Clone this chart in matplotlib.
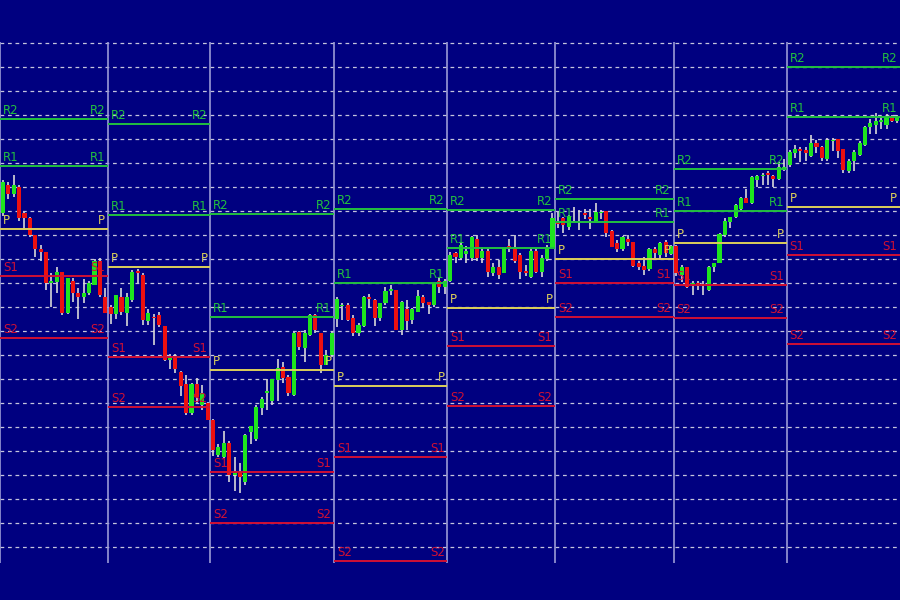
import numpy as np
import matplotlib
matplotlib.use('Agg')
import matplotlib.pyplot as plt

# colours
BG = '#000080'
GRID = '#c4c4dc'
SEP = '#9a9ad6'
UP = '#1ee41e'
DOWN = '#ec1010'
WICK = '#d8d8d8'
R_COL = '#22c040'
P_COL = '#dccf5a'
S_COL = '#d01034'

# one day = one session, bars counted per session
bars_per_day = [20, 19, 23, 21, 20, 22, 21, 21]

# daily pivot levels (price units, grid every 10)
pivot_r2 = [198.3, 196.3, 158.8, 160.8, 160.4, 165.0, 177.5, 220.0]
pivot_r1 = [178.8, 158.3, 115.8, 130.0, 144.6, 155.4, 160.0, 199.2]
pivot_p = [152.5, 136.7, 93.8, 87.1, 119.6, 140.0, 146.7, 161.7]
pivot_s1 = [132.9, 99.2, 51.3, 57.5, 103.8, 130.0, 129.2, 141.7]
pivot_s2 = [107.1, 78.3, 30.0, 14.2, 78.8, 115.8, 115.4, 104.6]

grid_levels = list(range(20, 231, 10))

# candles: (open, high, low, close)
day1 = [(159, 173, 158, 172), (171, 172, 165, 167), (167, 175, 166, 171),
        (170, 171, 156, 157), (159, 159.5, 152, 157), (157, 157.5, 149, 150),
        (150, 150, 141, 144), (144, 146, 139, 143), (143, 143, 127, 130),
        (130, 134, 120, 131), (130.5, 136.5, 126, 134.5),
        (134.5, 134.5, 116.5, 117.5), (117.5, 132, 117, 132),
        (131, 132, 122, 126), (126, 128, 115, 124), (124, 131.5, 121.5, 126),
        (126, 131, 125, 130), (129, 140, 129, 139), (139, 140.5, 124, 125),
        (124, 128, 117.5, 117.5)]
day2 = [(120, 121, 113, 117), (117, 125, 115, 125), (124, 128, 116.5, 118),
        (117.5, 126, 112, 124), (123, 135.5, 122, 134.5), (135, 136, 130, 134),
        (133.5, 134, 112.5, 114.5), (114, 119, 112.5, 117.5),
        (116, 117, 104, 115.5), (116.5, 118, 111.5, 112.5),
        (112, 112, 97.5, 98), (98, 100.5, 94, 99), (99, 100.5, 92.5, 94),
        (93, 93.5, 83, 87), (88, 91.5, 75, 76), (76, 88.5, 75, 88),
        (88, 90.5, 80, 82.5), (79, 87.5, 77, 84), (80, 80.5, 73, 73)]
day3 = [(73, 73.5, 58, 60.5), (58.5, 63, 57.5, 61.5), (57.5, 68.5, 57, 63.5),
        (63.5, 64, 47, 50), (50, 57.5, 43.5, 51.5), (51, 55, 42.5, 49),
        (47, 67, 46, 66.5), (68, 70.5, 63, 70.5), (65, 79, 64, 78.5),
        (78, 82.5, 75, 81.5), (84, 90, 77, 85), (81, 90, 79, 90),
        (89.5, 98.5, 81, 94.5), (95, 97, 88.5, 90.5), (91, 91.5, 83, 84),
        (83.5, 109.5, 83, 109), (109.5, 110, 102, 103.5),
        (103, 110.5, 97, 109), (108.5, 117, 108, 116.5),
        (116.5, 117, 109, 110.5), (109, 109, 92.5, 96), (96, 102, 96, 100),
        (100, 110, 99, 109)]
day4 = [(115, 124, 111.5, 123.5), (120.5, 121.5, 114.5, 121),
        (121, 121.5, 114, 114.5), (115.5, 116.5, 108, 109),
        (109, 113.5, 108, 112.5), (112, 124.5, 111.5, 124),
        (124, 125.5, 119.5, 123.5), (123, 123.5, 112, 115.5),
        (115.5, 121.5, 114, 121.5), (121.5, 128.5, 121, 126.5),
        (126.5, 129, 125, 127.5), (127, 127, 110.5, 110.5),
        (110.5, 122.5, 108.5, 122), (119, 123, 110.5, 114),
        (114.5, 119.5, 113, 119), (118, 127, 118, 124.5),
        (124, 125, 119.5, 121.5), (122, 122, 117, 121), (121, 130, 120, 130),
        (131, 132, 126, 128.5), (128.5, 131.5, 125.5, 131)]
day5 = [(131, 143, 130.5, 141.5), (142.5, 143, 138.5, 141),
        (140.5, 146.5, 139.5, 146), (142, 145.5, 138.5, 143.5),
        (140.5, 149.5, 139, 149), (148.5, 150, 139, 140.5),
        (140.5, 145, 138.5, 143.5), (143.5, 144, 132.5, 134.5),
        (134, 138.5, 133, 136.5), (136.5, 139.5, 131.5, 133.5),
        (134, 145, 134, 145), (145.5, 148.5, 143, 144),
        (144, 150, 138.5, 139), (141.5, 142.5, 131.5, 134.5),
        (135, 137.5, 133, 134), (132.5, 144, 132, 143.5),
        (143.5, 144, 134, 134.5), (134.5, 141.5, 132.5, 140.5),
        (140, 146, 139, 145), (145, 159, 145, 157)]
day6 = [(155.5, 159.5, 153, 154.5), (157, 157.5, 151, 154),
        (153.5, 158.5, 152, 158), (155.5, 161.5, 155, 156),
        (155.5, 160.5, 152, 156), (159, 161, 156.5, 158.5),
        (157.5, 161, 152.5, 156.5), (156, 163.5, 156, 159.5),
        (159, 160.5, 156.5, 159.5), (160, 160, 149, 151),
        (151.5, 152, 145, 145), (146.5, 148, 143, 144),
        (144, 149.5, 143.5, 149), (148.5, 150, 145.5, 147),
        (147, 147, 136.5, 137), (138.5, 139, 135.5, 136.5),
        (137, 141, 133.5, 135.5), (136, 144.5, 135, 144),
        (144, 145, 140.5, 142.5), (141.5, 147, 139.5, 146.5),
        (147, 148, 141, 142.5), (142, 146, 141.5, 145.5)]
day7 = [(145.5, 146, 133, 134), (133.5, 137.5, 130.5, 136.5),
        (136.5, 136.5, 128, 128.5), (129.5, 131, 125, 130),
        (130, 131, 127, 129.5), (129, 131, 125, 129.5),
        (127, 137, 126.5, 136.5), (136.5, 138.5, 134.5, 138.5),
        (138.5, 151, 138.5, 150.5), (150, 157, 149, 156),
        (155.5, 157.5, 153, 157.5), (157.5, 163, 157, 162.5),
        (161, 166, 160, 165.5), (165.5, 169, 163.5, 163.5),
        (163.5, 174.5, 163, 174), (173, 175, 170, 174.5),
        (174.5, 176, 171, 175), (176, 176.5, 171, 175),
        (174.5, 175, 170, 173.5), (173.5, 180.5, 173, 178.5),
        (177, 181.5, 176.5, 178.5)]
day8 = [(179, 185.5, 178.5, 184.5), (184, 187.5, 182, 186),
        (186, 186.5, 180.5, 185), (185.5, 186.5, 181, 184),
        (183, 191.5, 182.5, 188.5), (188.5, 189.5, 184, 186.5),
        (186.5, 187, 181, 182), (181.5, 190.5, 181, 189.5),
        (189, 190.5, 185, 189.5), (190, 190, 182, 185),
        (186, 186, 176, 177), (176.5, 181.5, 176, 181),
        (181, 185.5, 176.5, 184.5), (183.5, 189, 183, 188.5),
        (187.5, 195.5, 187, 195), (195, 198.5, 192, 196.5),
        (196, 201, 192, 197.5), (197, 199.5, 194, 198),
        (196, 200.5, 194, 199), (199.5, 200, 197, 197.5),
        (197.5, 200, 196.5, 199)]

candles = day1 + day2 + day3 + day4 + day5 + day6 + day7 + day8

plt.rcParams['font.family'] = 'DejaVu Sans'

fig = plt.figure(figsize=(9, 6), dpi=100, facecolor=BG)
ax = fig.add_axes([0, 0, 1, 1])
ax.set_facecolor(BG)
ax.set_xlim(-0.546, 166.5)
ax.set_ylim(-2.08, 247.92)
ax.axis('off')

# dashed price grid
for lvl in grid_levels:
    ax.axhline(lvl, color=GRID, lw=0.9, ls=(0, (3, 3)), zorder=1)

# session separators
edges = np.concatenate([[0], np.cumsum(bars_per_day)]) - 0.5
for e in edges[:-1]:
    ax.vlines(e, 13.3, 230.4, color=SEP, lw=1.2, zorder=2)

# candles
ohlc = np.array(candles, dtype=float)
x = np.arange(len(ohlc))
o, h, l, c = ohlc.T
up = c >= o
ax.vlines(x, l, h, color=WICK, lw=1.2, zorder=3)
ax.bar(x[up], c[up] - o[up], bottom=o[up], width=0.76, color=UP,
       linewidth=0, zorder=4)
ax.bar(x[~up], o[~up] - c[~up], bottom=c[~up], width=0.76, color=DOWN,
       linewidth=0, zorder=4)

# pivot lines with labels at both ends
levels = [('R2', pivot_r2, R_COL), ('R1', pivot_r1, R_COL),
          ('P', pivot_p, P_COL), ('S1', pivot_s1, S_COL),
          ('S2', pivot_s2, S_COL)]
for name, vals, col in levels:
    for d, v in enumerate(vals):
        x0, x1 = edges[d], edges[d + 1]
        ax.hlines(v, x0, x1, color=col, lw=1.4, zorder=5)
        ax.annotate(name, (x0, v), xytext=(2, 1.5), textcoords='offset points',
                    ha='left', va='bottom', color=col, fontsize=8.5, zorder=6)
        ax.annotate(name, (x1, v), xytext=(-2, 1.5),
                    textcoords='offset points', ha='right', va='bottom',
                    color=col, fontsize=8.5, zorder=6)

fig.savefig('out.png', dpi=100, facecolor=BG)
